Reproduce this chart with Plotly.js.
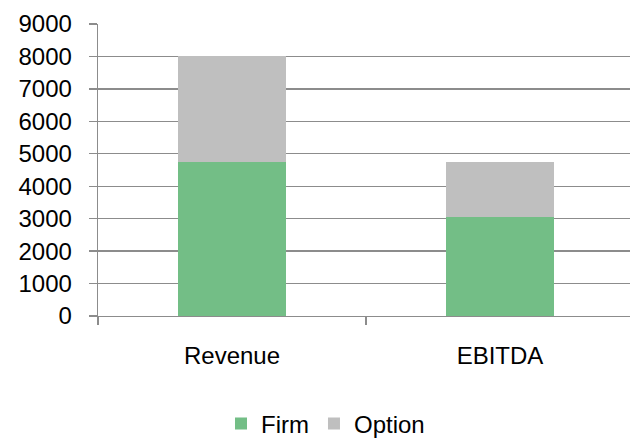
<!DOCTYPE html>
<html>
<head>
<meta charset="utf-8">
<script src="https://cdn.plot.ly/plotly-3.0.1.min.js"></script>
<style>html,body{margin:0;padding:0;background:#fff;}#chart{width:630px;height:441px;}</style>
</head>
<body>
<div id="chart"></div>
<script>
var categories = ["Revenue", "EBITDA"];
var firmValues = [4750, 3050];
var optionValues = [3250, 1710];
var yTickValues = [0, 1000, 2000, 3000, 4000, 5000, 6000, 7000, 8000, 9000];

var W = 630, H = 441;
var plotLeft = 98, plotTop = 23.7, plotBottom = 316.3;
var catWidth = 268;
var plotRight = W; // plot continues past window edge
var visibleCats = (plotRight - plotLeft) / catWidth;

var traces = [
  {type: "bar", name: "Firm", x: categories, y: firmValues,
   marker: {color: "#73BE86"}, hoverinfo: "none"},
  {type: "bar", name: "Option", x: categories, y: optionValues,
   marker: {color: "#BFBFBF"}, hoverinfo: "none"}
];

var layout = {
  width: W, height: H,
  paper_bgcolor: "#ffffff", plot_bgcolor: "#ffffff",
  barmode: "stack", bargap: 0.6,
  showlegend: true,
  font: {family: "Liberation Sans, Arial, sans-serif", color: "#000000", size: 24},
  margin: {l: plotLeft, r: 0, t: plotTop, b: H - plotBottom, pad: 0},
  xaxis: {
    type: "category",
    range: [-0.5, -0.5 + visibleCats],
    showline: true, linecolor: "#8C8C8C", linewidth: 1.3,
    ticks: "outside", tickson: "boundaries", ticklen: 8, tickcolor: "#8C8C8C", tickwidth: 1.3,
    showgrid: false, zeroline: false,
    tickfont: {size: 24, color: "#000"},
    ticklabelstandoff: 18,
    fixedrange: true
  },
  yaxis: {
    range: [0, 9000],
    tickvals: yTickValues,
    ticktext: yTickValues.map(String),
    showline: true, linecolor: "#8C8C8C", linewidth: 1.3,
    ticks: "outside", ticklen: 8, tickcolor: "#8C8C8C", tickwidth: 1.3,
    showgrid: true, gridcolor: "#8C8C8C", gridwidth: 1.3,
    zeroline: false,
    tickfont: {size: 24, color: "#000"},
    ticklabelstandoff: 12,
    fixedrange: true
  },
  legend: {
    orientation: "h",
    x: 221 / W, xanchor: "left", xref: "container",
    y: 1 - 424 / H, yanchor: "middle", yref: "container",
    font: {size: 24, color: "#000"},
    itemwidth: 30, itemclick: false, itemdoubleclick: false,
    traceorder: "normal",
    bgcolor: "rgba(0,0,0,0)"
  }
};

Plotly.newPlot("chart", traces, layout, {staticPlot: true, displayModeBar: false});
</script>
</body>
</html>
